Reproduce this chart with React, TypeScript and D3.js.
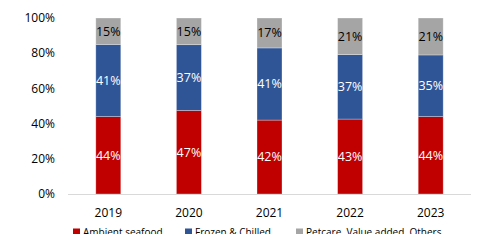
import React from 'react';
import * as d3 from 'd3';

const years = ['2019', '2020', '2021', '2022', '2023'];
const ambient = [44, 47, 42, 43, 44];
const frozen = [41, 37, 41, 37, 35];
const others = [15, 15, 17, 21, 21];
const seriesNames = ['Ambient seafood', 'Frozen & Chilled', 'Petcare, Value added, Others'];
const seriesKeys = ['ambient', 'frozen', 'others'];
const colors = ['#C00000', '#2F5597', '#A5A5A5'];
const labelColors = ['#ffffff', '#ffffff', '#000000'];
const yTicks = [0, 0.2, 0.4, 0.6, 0.8, 1];

const W = 486;
const H = 242;
const FONT = "'Open Sans', sans-serif";

const App: React.FC = () => {
  const rows = years.map((y, i) => ({ year: y, ambient: ambient[i], frozen: frozen[i], others: others[i] }));

  // stack to 100%
  const stacked = d3.stack<any>().keys(seriesKeys).offset(d3.stackOffsetExpand)(rows);

  const x = d3.scaleBand()
    .domain(years)
    .range([68, 471])
    .paddingInner(0.69)
    .paddingOuter(0.345);

  const y = d3.scaleLinear().domain([0, 1]).range([194, 18]);
  const fmt = d3.format('.0%');

  const legendX = [73, 185, 296];

  return (
    <div style={{ margin: -8 }}>
      <svg width={W} height={H} style={{ display: 'block', fontFamily: FONT }}>
        <rect width={W} height={H} fill="#ffffff" />
        {/* y axis labels */}
        {yTicks.map(t => (
          <text key={t} x={55} y={y(t)} dy="0.35em" textAnchor="end" fontSize={12} fill="#000">
            {fmt(t)}
          </text>
        ))}
        {/* bars */}
        {stacked.map((s, si) => (
          <g key={s.key}>
            {s.map((d, i) => {
              const x0 = x(years[i]) || 0;
              const y0 = y(d[1]);
              const h = y(d[0]) - y(d[1]);
              const v = (d.data as any)[s.key];
              return (
                <g key={years[i]}>
                  <rect x={x0} y={y0} width={x.bandwidth()} height={h}
                    fill={colors[si]} stroke="#ffffff" strokeOpacity={0.4} strokeWidth={0.75} />
                  <text x={x0 + x.bandwidth() / 2} y={y0 + h / 2} dy="0.35em" textAnchor="middle"
                    fontSize={12.5} fill={labelColors[si]}>
                    {v}%
                  </text>
                </g>
              );
            })}
          </g>
        ))}
        {/* baseline */}
        <line x1={68} x2={471} y1={194.5} y2={194.5} stroke="#d9d9d9" strokeWidth={1} />
        {/* x labels */}
        {years.map(yr => (
          <text key={yr} x={(x(yr) || 0) + x.bandwidth() / 2} y={213} dy="0.35em" textAnchor="middle" fontSize={12} fill="#000">
            {yr}
          </text>
        ))}
        {/* legend */}
        {seriesNames.map((n, i) => (
          <g key={n} transform={`translate(${legendX[i]},232)`}>
            <rect x={0} y={-3.5} width={7} height={7} fill={colors[i]} />
            <text x={10} y={0} dy="0.35em" fontSize={10} fill="#000">{n}</text>
          </g>
        ))}
      </svg>
    </div>
  );
};

export default App;
